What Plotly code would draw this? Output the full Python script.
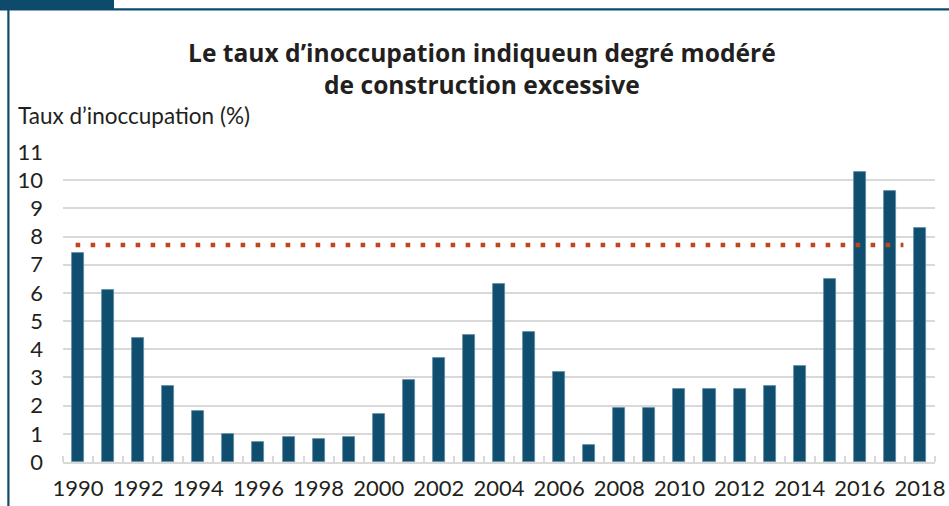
import plotly.graph_objects as go

years = list(range(1990, 2019))
vacancy = [7.4, 6.1, 4.4, 2.7, 1.8, 1.0, 0.7, 0.9, 0.8, 0.9,
           1.7, 2.9, 3.7, 4.5, 6.3, 4.6, 3.2, 0.6, 1.9, 1.9,
           2.6, 2.6, 2.6, 2.7, 3.4, 6.5, 10.3, 9.6, 8.3]
threshold = 7.7
tick_years = years[::2]
y_ticks = list(range(0, 12))
title_lines = ["Le taux d’inoccupation indiqueun degré modéré",
               "de construction excessive"]
y_title = "Taux d’inoccupation (%)"

W, H = 949, 506
ML, MR, MT, MB = 63, 14, 152, 44
PW, PH = W - ML - MR, H - MT - MB


def px(x):
    return (x - ML) / PW


def py(y):
    return (H - MB - y) / PH


NAVY = "#0d4a6b"
BAR = "#0f4e6f"
DOT = "#c0461f"
GRID = "#d9d9d9"
FONT = "Lato"
TXT = "#231f20"

fig = go.Figure()
fig.add_trace(go.Bar(
    x=years, y=vacancy, width=0.4,
    marker=dict(color=BAR, line=dict(color="#5f8aa4", width=0.8)),
    showlegend=False, hoverinfo="x+y",
))
fig.add_trace(go.Scatter(
    x=[years[0] - 0.08, years[-1] - 0.55], y=[threshold, threshold],
    mode="lines",
    line=dict(color=DOT, width=4.6, dash="4.6px,10.4px"),
    showlegend=False, hoverinfo="skip",
))

fig.update_layout(
    width=W, height=H,
    margin=dict(l=ML, r=MR, t=MT, b=MB, autoexpand=False),
    paper_bgcolor="white", plot_bgcolor="white",
    font=dict(family=FONT, color=TXT, size=22),
    bargap=0,
)
fig.update_xaxes(
    range=[years[0] - 0.5, years[-1] + 0.5], automargin=False,
    tickmode="array", tickvals=tick_years, ticktext=[str(y) for y in tick_years],
    ticks="", showgrid=False, zeroline=False,
    showline=True, linecolor=GRID, linewidth=2,
    tickfont=dict(size=22, family=FONT, color=TXT),
    ticklabelstandoff=6,
    minor=dict(tick0=years[0] - 0.5, dtick=1, ticks="inside", ticklen=6,
               tickcolor=GRID, tickwidth=1.5, showgrid=False),
)
fig.update_yaxes(
    range=[0, 11], automargin=False, tickmode="array", tickvals=y_ticks,
    ticktext=[str(v) for v in y_ticks],
    showgrid=True, gridcolor=GRID, gridwidth=1.5, zeroline=False,
    ticks="", tickfont=dict(size=22, family=FONT, color=TXT),
    ticklabelstandoff=19,
)

for line, yc in zip(title_lines, [52, 84.5]):
    fig.add_annotation(
        text="<b>" + line + "</b>", xref="paper", yref="paper",
        x=px(482), y=py(yc), xanchor="center", yanchor="middle",
        showarrow=False, font=dict(size=24.6, family="Open Sans", color=TXT),
    )

fig.add_annotation(
    text=y_title, xref="paper", yref="paper",
    x=px(16), y=py(116), xanchor="left", yanchor="middle",
    showarrow=False, font=dict(size=22.5, family=FONT, color=TXT),
)

# frame decorations
fig.add_shape(type="rect", xref="paper", yref="paper",
              x0=px(0), x1=px(114), y0=py(10), y1=py(0),
              fillcolor=NAVY, line=dict(width=0), layer="above")
fig.add_shape(type="rect", xref="paper", yref="paper",
              x0=px(0), x1=px(949), y0=py(10.5), y1=py(8.2),
              fillcolor=NAVY, line=dict(width=0), layer="above")
fig.add_shape(type="rect", xref="paper", yref="paper",
              x0=px(7.3), x1=px(9.5), y0=py(506), y1=py(8.2),
              fillcolor=NAVY, line=dict(width=0), layer="above")

fig.write_html("out.html", config={"displayModeBar": False},
               post_script="document.body.style.margin='0';document.body.style.overflow='hidden';")
